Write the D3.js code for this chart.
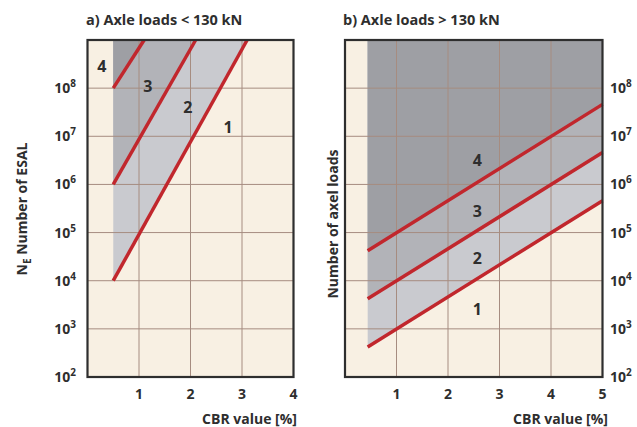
<!DOCTYPE html>
<html>
<head>
<meta charset="utf-8">
<script src="https://cdn.jsdelivr.net/npm/d3@7"></script>
<style>
  html, body { margin: 0; padding: 0; background: #ffffff; }
  svg { display: block; }
  text { font-family: "Open Sans", "DejaVu Sans", sans-serif; font-weight: 700; fill: #2e2e2e; }
</style>
</head>
<body>
<svg id="chart" width="637" height="427"></svg>
<script>
// ---- data ----
const yExponents = [2, 3, 4, 5, 6, 7, 8];      // labelled decades 10^2 .. 10^8
const yGridExponents = [3, 4, 5, 6, 7, 8];
const cbrTicksA = [1, 2, 3, 4];
const cbrTicksB = [1, 2, 3, 4, 5];

// Panel a: class boundaries (CBR value, number of ESAL)
const aStartCBR = [0.5, 0.5, 0.5];
const aStartN   = [1e4, 1e6, 1e8];
const aEndCBR   = [3.1, 2.1, 1.1];
const aEndN     = [1e9, 1e9, 1e9];
const aClassLabels = ["1", "2", "3", "4"];
const aLabelCBR    = [2.73, 1.95, 1.17, 0.28];
const aLabelN      = [1.55e7, 4.1e7, 1.1e8, 2.8e8];

// Panel b: class boundaries (CBR value, number of axle loads)
const bStartCBR = [0.44, 0.44, 0.44];
const bStartN   = [4.2e2, 4.2e3, 4.2e4];
const bEndCBR   = [5, 5, 5];
const bEndN     = [4.6e5, 4.6e6, 4.6e7];
const bClassLabels = ["1", "2", "3", "4"];
const bLabelCBR    = [2.57, 2.57, 2.57, 2.57];
const bLabelN      = [2.5e3, 3.0e4, 2.8e5, 3.2e6];

// ---- styling ----
const C = {
  cream: "#f8f0e3",
  light: "#c9cacf",
  mid:   "#b2b3b8",
  dark:  "#9e9fa4",
  grid:  "#a68c80",
  red:   "#c1272d",
  frame: "#2e2e2e"
};
const shades = [C.light, C.mid, C.dark];

const svg = d3.select("#chart");
const yMin = 1e2, yMax = 1e9;

function panel(opt) {
  const x = d3.scaleLinear().domain(opt.xDomain).range(opt.xRange);
  const y = d3.scaleLog().domain([yMin, yMax]).range([377, 40]);
  const g = svg.append("g");
  const [x0, x1] = opt.xRange;
  const [yb, yt] = [377, 40];

  // background
  g.append("rect").attr("x", x0).attr("y", yt).attr("width", x1 - x0).attr("height", yb - yt)
    .attr("fill", C.cream);

  // shaded classes, drawn lightest first so the darker ones sit on top
  const line = d3.line().x(d => x(d[0])).y(d => y(d[1]));
  opt.fills.forEach((pts, i) => {
    g.append("path").attr("d", line(pts) + "Z").attr("fill", shades[i]);
  });

  // grid
  g.append("g").selectAll("line").data(opt.xTicks.slice(0, -1)).join("line")
    .attr("x1", d => x(d)).attr("x2", d => x(d)).attr("y1", yt).attr("y2", yb)
    .attr("stroke", C.grid).attr("stroke-width", 1);
  g.append("g").selectAll("line").data(yGridExponents).join("line")
    .attr("x1", x0).attr("x2", x1).attr("y1", d => y(Math.pow(10, d))).attr("y2", d => y(Math.pow(10, d)))
    .attr("stroke", C.grid).attr("stroke-width", 1);

  // class boundaries
  opt.bounds.forEach(seg => {
    g.append("path").attr("d", line(seg)).attr("fill", "none")
      .attr("stroke", C.red).attr("stroke-width", 3.5);
  });

  // frame
  g.append("rect").attr("x", x0).attr("y", yt).attr("width", x1 - x0).attr("height", yb - yt)
    .attr("fill", "none").attr("stroke", C.frame).attr("stroke-width", 2.2);

  // class numbers
  g.append("g").selectAll("text").data(opt.labels).join("text")
    .attr("x", d => x(d.cbr)).attr("y", d => y(d.n)).attr("dy", "0.36em")
    .attr("text-anchor", "middle").style("font-size", "16px").text(d => d.t);

  // x tick labels
  g.append("g").selectAll("text").data(opt.xTicks).join("text")
    .attr("x", d => x(d)).attr("y", 399).attr("text-anchor", "middle")
    .style("font-size", "14px").text(d => d);

  // x axis title
  g.append("text").attr("x", opt.xTitleRight).attr("y", 424).attr("text-anchor", "end")
    .style("font-size", "14px").text("CBR value [%]");

  // y tick labels 10^n
  const yl = g.append("g").selectAll("text").data(yExponents).join("text")
    .attr("x", opt.yLabelX).attr("y", d => y(Math.pow(10, d)) + 5)
    .attr("text-anchor", opt.yLabelAnchor).style("font-size", "14px");
  yl.append("tspan").text("10");
  yl.append("tspan").attr("dy", -6).style("font-size", "10px").text(d => d);

  // panel title
  g.append("text").attr("x", opt.titleX).attr("y", 25).style("font-size", "14.5px").text(opt.title);

  return { x, y, g };
}

// panel a
const aFills = aStartCBR.map((c, i) => [[c, aStartN[i]], [aEndCBR[i], aEndN[i]], [c, yMax]]);
const aBounds = aStartCBR.map((c, i) => [[c, aStartN[i]], [aEndCBR[i], aEndN[i]]]);
const A = panel({
  xDomain: [0, 4], xRange: [87.5, 293.5], xTicks: cbrTicksA,
  fills: aFills, bounds: aBounds,
  labels: aClassLabels.map((t, i) => ({ t, cbr: aLabelCBR[i], n: aLabelN[i] })),
  xTitleRight: 297, yLabelX: 76, yLabelAnchor: "end",
  titleX: 86, title: "a) Axle loads < 130 kN"
});

// panel b
const bFills = bStartCBR.map((c, i) => [[c, bStartN[i]], [bEndCBR[i], bEndN[i]], [bEndCBR[i], yMax], [c, yMax]]);
const bBounds = bStartCBR.map((c, i) => [[c, bStartN[i]], [bEndCBR[i], bEndN[i]]]);
const B = panel({
  xDomain: [0, 5], xRange: [345, 602.5], xTicks: cbrTicksB,
  fills: bFills, bounds: bBounds,
  labels: bClassLabels.map((t, i) => ({ t, cbr: bLabelCBR[i], n: bLabelN[i] })),
  xTitleRight: 608, yLabelX: 610, yLabelAnchor: "start",
  titleX: 343, title: "b) Axle loads > 130 kN"
});

// y axis titles
const ya = svg.append("text").attr("transform", "translate(27,209) rotate(-90)")
  .attr("text-anchor", "middle").style("font-size", "14px");
ya.append("tspan").text("N");
ya.append("tspan").attr("dy", 4).style("font-size", "10px").text("E");
ya.append("tspan").attr("dy", -4).text(" Number of ESAL");

svg.append("text").attr("transform", "translate(338,224) rotate(-90)")
  .attr("text-anchor", "middle").style("font-size", "14px").text("Number of axel loads");
</script>
</body>
</html>
